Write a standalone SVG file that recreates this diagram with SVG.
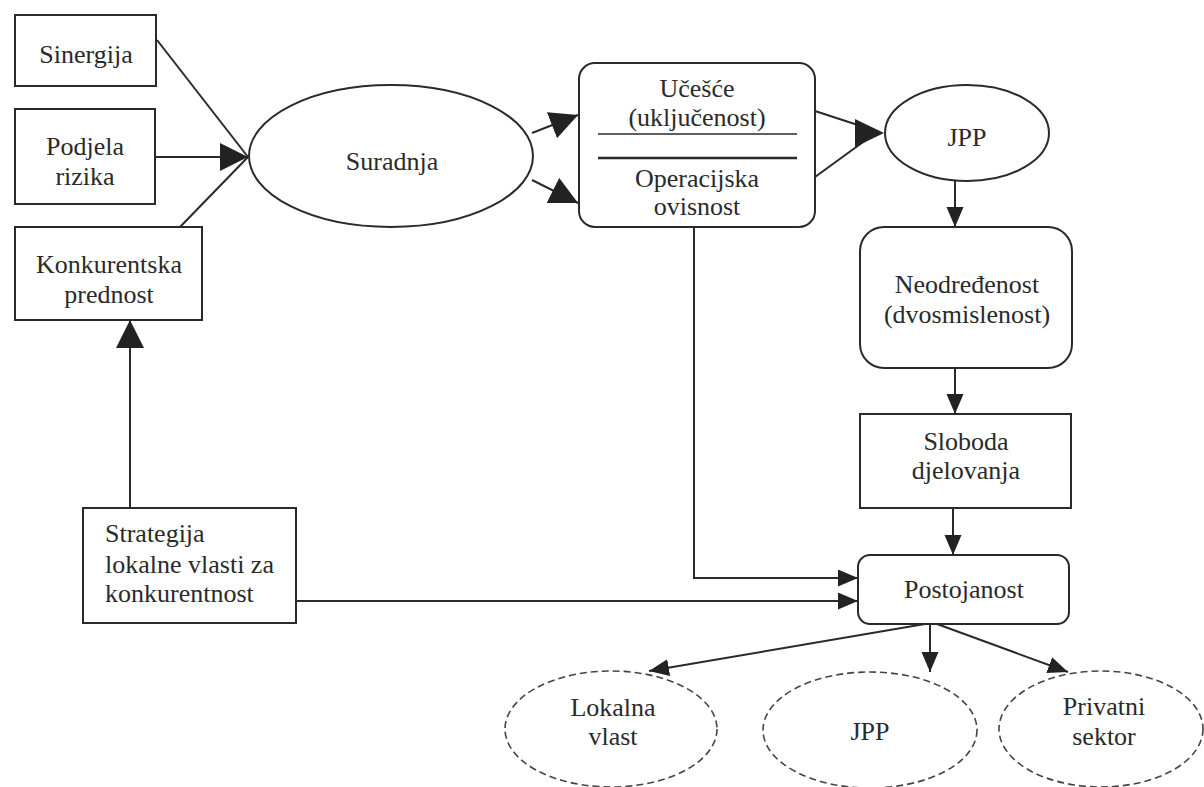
<svg xmlns="http://www.w3.org/2000/svg" width="1204" height="787" viewBox="0 0 1204 787">
<style>
  .box { fill: #ffffff; stroke: #2a2a2a; stroke-width: 2; }
  .dash { fill: #ffffff; stroke: #444; stroke-width: 1.6; stroke-dasharray: 7 4; }
  .ln { fill: none; stroke: #2a2a2a; stroke-width: 2; }
  text { font-family: 'Liberation Serif', 'DejaVu Serif', serif; font-size: 26px; fill: #2a2a2a; text-anchor: middle; }
  .tl { text-anchor: start; }
  .head { fill: #222; }
</style>
<defs>
  <marker id="big" markerUnits="userSpaceOnUse" markerWidth="30" markerHeight="30" refX="28" refY="14" orient="auto">
    <path d="M0,0 L28,14 L0,28 z" class="head"/>
  </marker>
  <marker id="small" markerUnits="userSpaceOnUse" markerWidth="22" markerHeight="20" refX="20" refY="8.5" orient="auto">
    <path d="M0,0 L20,8.5 L0,17 z" class="head"/>
  </marker>
</defs>
<rect width="1204" height="787" fill="#ffffff"/>

<g id="connectors">
  <line class="ln" x1="157" y1="40" x2="248" y2="157"/>
  <line class="ln" x1="155" y1="157" x2="248" y2="157" marker-end="url(#big)"/>
  <line class="ln" x1="180" y1="227" x2="248" y2="157"/>
  <line class="ln" x1="532" y1="133" x2="578" y2="115" marker-end="url(#big)"/>
  <line class="ln" x1="532" y1="180" x2="578" y2="203" marker-end="url(#big)"/>
  <line class="ln" x1="815" y1="111" x2="870" y2="129"/>
  <line class="ln" x1="815" y1="177" x2="870" y2="137"/>
  <polygon class="head" points="884,133 855,119 855,147"/>
  <line class="ln" x1="955" y1="180" x2="955" y2="227" marker-end="url(#small)"/>
  <line class="ln" x1="955" y1="368" x2="955" y2="414" marker-end="url(#small)"/>
  <line class="ln" x1="953" y1="508" x2="953" y2="555" marker-end="url(#small)"/>
  <polyline class="ln" points="694,227 694,578 858,578" marker-end="url(#small)"/>
  <line class="ln" x1="296" y1="601" x2="858" y2="601" marker-end="url(#small)"/>
  <line class="ln" x1="130" y1="508" x2="130" y2="320" marker-end="url(#big)"/>
  <line class="ln" x1="925" y1="624" x2="649" y2="671" marker-end="url(#small)"/>
  <line class="ln" x1="930" y1="624" x2="930" y2="672" marker-end="url(#small)"/>
  <line class="ln" x1="937" y1="624" x2="1068" y2="672" marker-end="url(#small)"/>
</g>

<g id="sinergija">
  <rect class="box" x="15" y="15" width="141" height="71"/>
  <text x="86" y="63">Sinergija</text>
</g>
<g id="podjela-rizika">
  <rect class="box" x="15" y="109" width="140" height="95"/>
  <text x="85" y="155">Podjela</text>
  <text x="85" y="185">rizika</text>
</g>
<g id="konkurentska-prednost">
  <rect class="box" x="15" y="227" width="187" height="93"/>
  <text x="109" y="273">Konkurentska</text>
  <text x="109" y="303">prednost</text>
</g>
<g id="suradnja">
  <ellipse class="box" cx="391" cy="156" rx="142" ry="71"/>
  <text x="392" y="170">Suradnja</text>
</g>
<g id="ucesce">
  <rect class="box" x="579" y="63" width="236" height="164" rx="16" ry="16"/>
  <text x="697" y="97">Učešće</text>
  <text x="697" y="126">(uključenost)</text>
  <line x1="598" y1="134" x2="797" y2="134" stroke="#2a2a2a" stroke-width="1.5"/>
  <line x1="598" y1="158" x2="797" y2="158" stroke="#2a2a2a" stroke-width="2.5"/>
  <text x="697" y="187">Operacijska</text>
  <text x="697" y="215">ovisnost</text>
</g>
<g id="jpp-top">
  <ellipse class="box" cx="967" cy="133" rx="82" ry="48"/>
  <text x="967" y="146">JPP</text>
</g>
<g id="neodredjenost">
  <rect class="box" x="860" y="227" width="212" height="141" rx="24" ry="24"/>
  <text x="967" y="293">Neodređenost</text>
  <text x="967" y="323">(dvosmislenost)</text>
</g>
<g id="sloboda">
  <rect class="box" x="860" y="414" width="211" height="94"/>
  <text x="966" y="450">Sloboda</text>
  <text x="966" y="479">djelovanja</text>
</g>
<g id="postojanost">
  <rect class="box" x="858" y="555" width="211" height="69" rx="12" ry="12"/>
  <text x="964" y="598">Postojanost</text>
</g>
<g id="strategija">
  <rect class="box" x="83" y="508" width="213" height="115"/>
  <text class="tl" x="105" y="542">Strategija</text>
  <text class="tl" x="105" y="573">lokalne vlasti za</text>
  <text class="tl" x="105" y="602">konkurentnost</text>
</g>
<g id="lokalna-vlast">
  <ellipse class="dash" cx="611" cy="729" rx="106" ry="58"/>
  <text x="613" y="716">Lokalna</text>
  <text x="613" y="745">vlast</text>
</g>
<g id="jpp-bottom">
  <ellipse class="dash" cx="870" cy="730" rx="107" ry="58"/>
  <text x="870" y="740">JPP</text>
</g>
<g id="privatni-sektor">
  <ellipse class="dash" cx="1101" cy="729" rx="102" ry="58"/>
  <text x="1104" y="715">Privatni</text>
  <text x="1104" y="745">sektor</text>
</g>
</svg>
